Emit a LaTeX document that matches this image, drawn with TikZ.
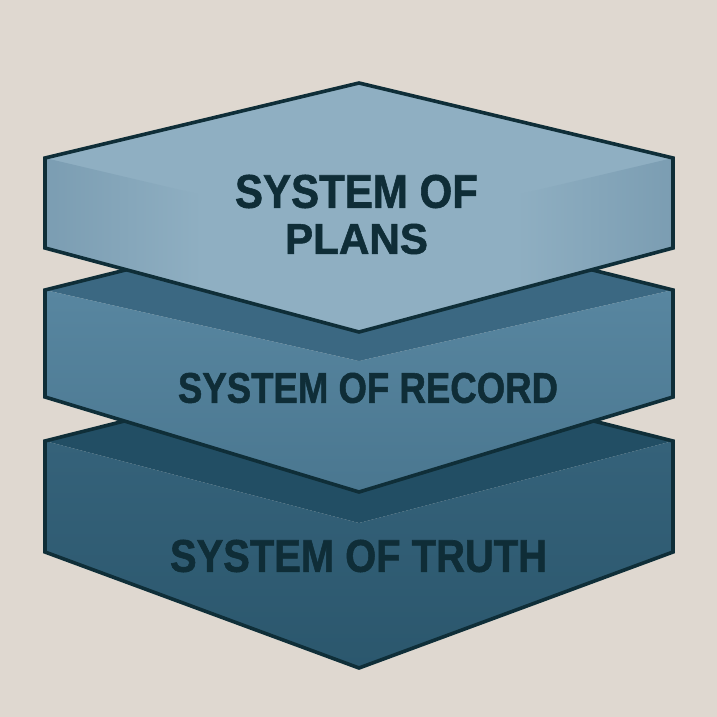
\documentclass[tikz,border=0pt]{standalone}
\usepackage{fontspec}
\setmainfont{Liberation Sans}[BoldFeatures={FakeBold=1.3}]
\usepackage{graphicx}
\definecolor{bgc}{HTML}{DFD8D0}
\definecolor{edgec}{HTML}{0F2E38}
\definecolor{textc}{HTML}{0F2D37}
\definecolor{aTop}{HTML}{8FAFC2}
\definecolor{aFrontOut}{HTML}{7B9DB2}
\definecolor{bTop}{HTML}{3B6882}
\definecolor{bFrontHi}{HTML}{5886A0}
\definecolor{bFrontLo}{HTML}{4A7790}
\definecolor{cTop}{HTML}{224E64}
\definecolor{cFrontHi}{HTML}{35627A}
\definecolor{cFrontLo}{HTML}{2B576D}
\tikzset{
  outline/.style={draw=edgec, line width=3.6pt, line join=miter},
  label/.style={inner sep=0pt, text=textc, font=\bfseries},
}
% #1 yT, #2 y1, #3 yM, #4 y2, #5 yB, #6 top colour, #7 front hi, #8 front lo
\newcommand\mylayer[8]{%
  \fill[#6] (359,#1) -- (673,#2) -- (359,#3) -- (45,#2) -- cycle;
  \shade[top color=#7, bottom color=#8] (45,#2) -- (359,#3) -- (359,#5) -- (45,#4) -- cycle;
  \shade[top color=#7, bottom color=#8] (673,#2) -- (359,#3) -- (359,#5) -- (673,#4) -- cycle;
  \draw[outline] (359,#1) -- (673,#2) -- (673,#4) -- (359,#5) -- (45,#4) -- (45,#2) -- cycle;
}
\begin{document}
\begin{tikzpicture}[x=1pt,y=-1pt]
\useasboundingbox (0,0) rectangle (717,717);
\fill[bgc] (0,0) rectangle (717,717);
% bottom layer
\mylayer{362}{441}{523}{552}{668}{cTop}{cFrontHi}{cFrontLo}
% middle layer
\mylayer{212}{290}{361}{397}{492}{bTop}{bFrontHi}{bFrontLo}
% top layer
\fill[aTop] (359,83) -- (673,158) -- (673,248) -- (359,332) -- (45,248) -- (45,158) -- cycle;
\shade[left color=aFrontOut, right color=aTop, middle color=aTop] (45,158) -- (359,232) -- (359,332) -- (45,248) -- cycle;
\shade[left color=aTop, right color=aFrontOut, middle color=aTop] (673,158) -- (359,232) -- (359,332) -- (673,248) -- cycle;
\draw[outline] (359,83) -- (673,158) -- (673,248) -- (359,332) -- (45,248) -- (45,158) -- cycle;
% texts
\node[label] (plans1) at (356.5,191.5) {\resizebox{243pt}{33pt}{SYSTEM OF}};
\node[label] (plans2) at (356.5,239) {\resizebox{143pt}{30pt}{PLANS}};
\node[label] (record) at (368,388) {\resizebox{380pt}{30pt}{SYSTEM OF RECORD}};
\node[label] (truth) at (358.5,556) {\resizebox{377pt}{32pt}{SYSTEM OF TRUTH}};
\end{tikzpicture}
\end{document}
